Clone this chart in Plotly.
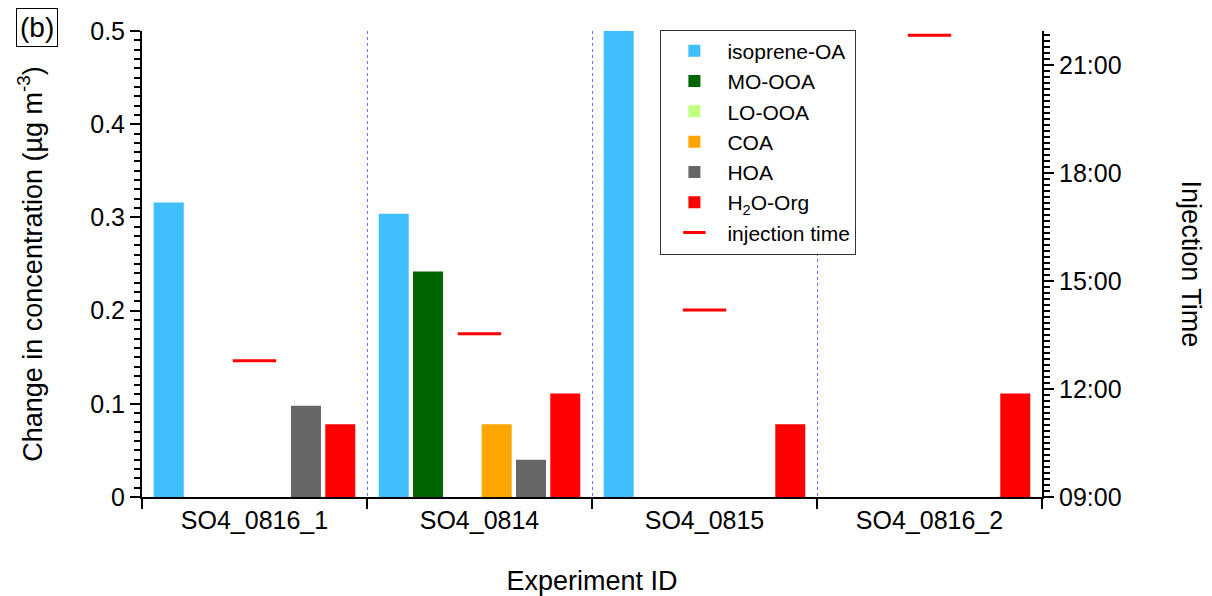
import plotly.graph_objects as go

experiments = ["SO4_0816_1", "SO4_0814", "SO4_0815", "SO4_0816_2"]
series_names = ["isoprene-OA", "MO-OOA", "LO-OOA", "COA", "HOA", "H<sub>2</sub>O-Org"]
series_colors = ["#40BFFF", "#006400", "#C0FF80", "#FFA500", "#666666", "#FF0000"]

isoprene_oa = [0.316, 0.304, 0.5, 0.0]
mo_ooa = [0.0, 0.242, 0.0, 0.0]
lo_ooa = [0.0, 0.0, 0.0, 0.0]
coa = [0.0, 0.078, 0.0, 0.0]
hoa = [0.098, 0.040, 0.0, 0.0]
h2o_org = [0.078, 0.111, 0.078, 0.111]
series_values = [isoprene_oa, mo_ooa, lo_ooa, coa, hoa, h2o_org]

injection_time = ["2000-01-01 12:47", "2000-01-01 13:32", "2000-01-01 14:12", "2000-01-01 21:50"]

FONT = "Liberation Sans, Arial, sans-serif"

fig = go.Figure()
for name, color, vals in zip(series_names, series_colors, series_values):
    fig.add_trace(go.Bar(x=experiments, y=vals, name=name, marker_color=color,
                         marker_line_width=0, yaxis="y"))

fig.add_trace(go.Scatter(x=experiments, y=injection_time, name="injection time",
                         mode="markers", yaxis="y2",
                         marker=dict(symbol="line-ew", size=31,
                                     line=dict(color="#FF0000", width=3))))

fig.update_layout(
    width=1212, height=596,
    margin=dict(l=142, r=170, t=31, b=99, autoexpand=False),
    paper_bgcolor="white", plot_bgcolor="white",
    font=dict(family=FONT, size=25, color="black"),
    barmode="group", bargap=0.085, bargroupgap=0.125,
    showlegend=True,
    legend=dict(x=0.576, y=1.003, xanchor="left", yanchor="top",
                bgcolor="white", bordercolor="#333333", borderwidth=1,
                font=dict(size=21), tracegroupgap=0, itemwidth=56),
    xaxis=dict(
        type="category", tickson="boundaries", automargin=False,
        showline=True, linecolor="black", linewidth=2,
        ticks="outside", ticklen=10, tickwidth=2, tickcolor="black",
        tickfont=dict(size=25),
        showgrid=True, gridcolor="#7070FF", gridwidth=1, griddash="dot",
        title=dict(text="Experiment ID", standoff=39, font=dict(size=27)),
        mirror=False, zeroline=False,
    ),
    yaxis=dict(
        range=[0, 0.5], dtick=0.1, tick0=0, automargin=False,
        showline=True, linecolor="black", linewidth=2,
        ticks="outside", ticklen=10, tickwidth=2, tickcolor="black",
        tickfont=dict(size=25),
        minor=dict(dtick=0.01, ticks="outside", ticklen=6, tickwidth=2, tickcolor="black"),
        showgrid=False, zeroline=False,
        title=dict(text="Change in concentration (µg m<sup>-3</sup>)", standoff=40,
                   font=dict(size=27)),
    ),
    yaxis2=dict(
        type="date", overlaying="y", side="right", anchor="x", automargin=False,
        range=["2000-01-01 09:00", "2000-01-01 21:57"],
        tick0="2000-01-01 09:00", dtick=3 * 3600 * 1000, tickformat="%H:%M",
        showline=True, linecolor="black", linewidth=2,
        ticks="outside", ticklen=10, tickwidth=2, tickcolor="black",
        tickfont=dict(size=25),
        minor=dict(dtick=10 * 60 * 1000, ticks="outside", ticklen=6, tickwidth=2, tickcolor="black"),
        showgrid=False, zeroline=False,
    ),
    annotations=[
        dict(text="Injection Time", xref="paper", yref="paper", x=1.166, y=0.5,
             textangle=90, showarrow=False, font=dict(size=27),
             xanchor="center", yanchor="middle"),
        dict(text="(b)", xref="paper", yref="paper", x=-0.14, y=1.049,
             xanchor="left", yanchor="top", showarrow=False, font=dict(size=28),
             bordercolor="black", borderwidth=1, borderpad=3, bgcolor="white"),
    ],
)

fig.write_html("out.html")
